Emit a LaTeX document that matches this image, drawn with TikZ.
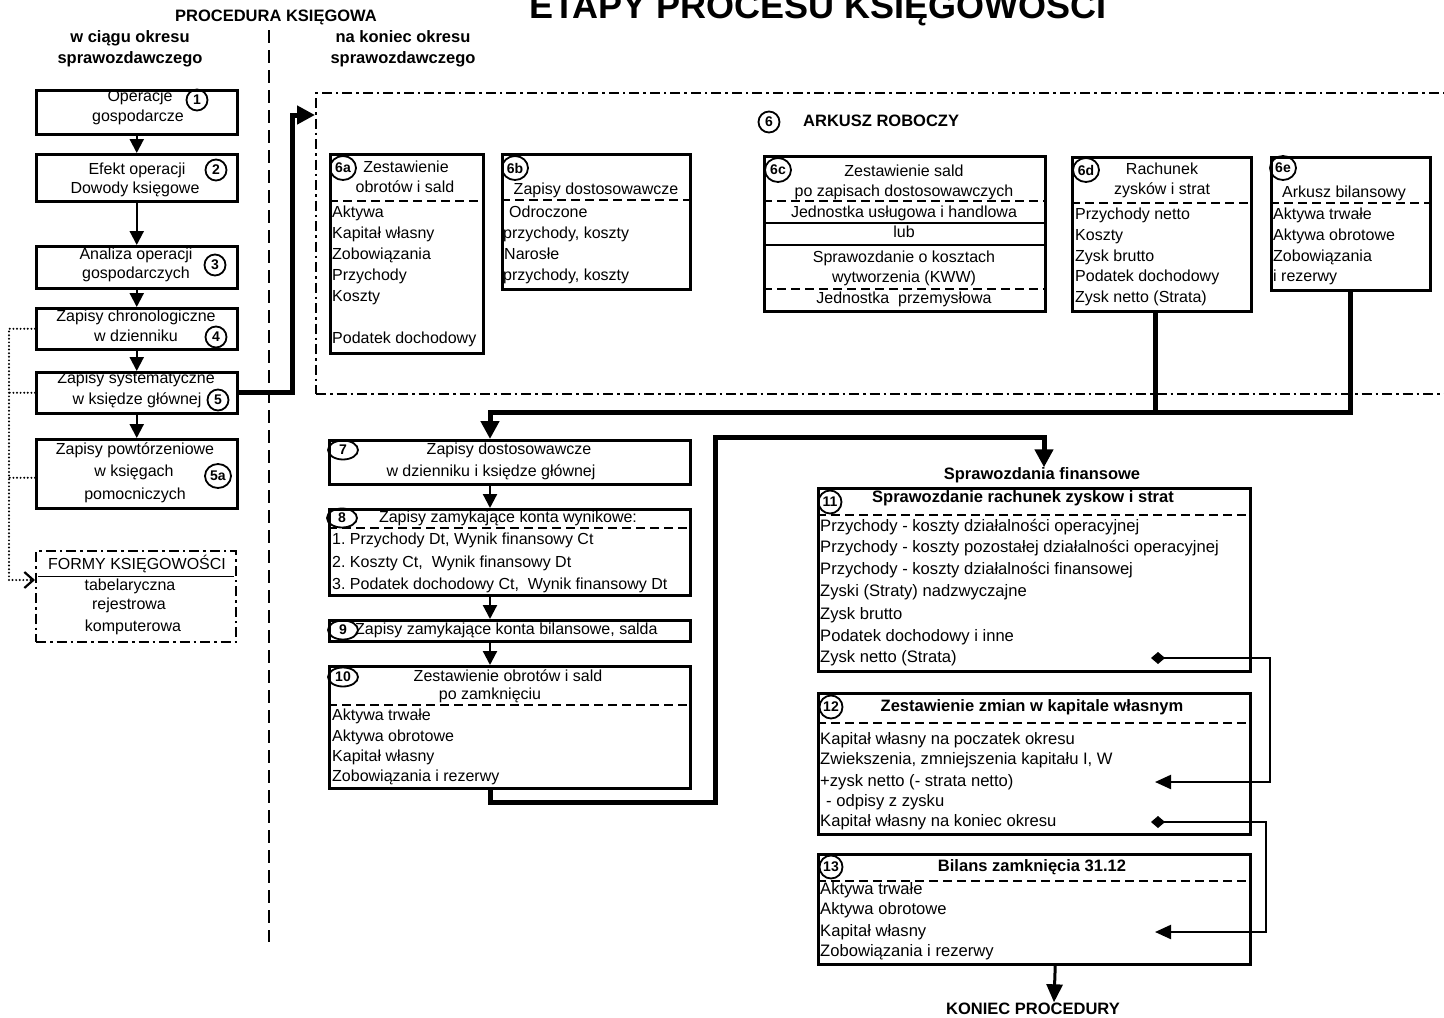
\documentclass[tikz,border=0pt]{standalone}
\usepackage{fontspec}
\setmainfont{Liberation Sans}
\usetikzlibrary{arrows.meta,shapes.geometric,calc}
\frenchspacing

\tikzset{
  frame/.style={draw, line width=2.5pt, inner sep=0pt, anchor=north west},
  dashdotframe/.style={draw, line width=2.4pt, inner sep=0pt, anchor=north west,
    dash pattern=on 10pt off 4pt on 2.5pt off 4pt},
  divider/.style={line width=2pt, dash pattern=on 9pt off 5pt},
  rule/.style={line width=2pt},
  txt/.style={inner sep=0pt, font=\fontsize{16}{19}\selectfont, text height=11.5pt, text depth=3.5pt},
  item/.style={txt, anchor=west},
  wideitem/.style={item, font=\fontsize{16.6}{19}\selectfont},
  hd/.style={txt, font=\fontsize{16.5}{19}\selectfont\bfseries},
  num/.style={circle, draw, line width=1.8pt, inner sep=0pt, minimum size=21pt,
    font=\fontsize{14}{14}\selectfont\bfseries},
  numbig/.style={num, minimum size=23pt},
  numwide/.style={ellipse, draw, line width=1.8pt, inner sep=0pt, minimum width=26pt,
    minimum height=24pt, font=\fontsize{14}{14}\selectfont\bfseries},
  numoval/.style={ellipse, draw, line width=1.8pt, inner sep=0pt, minimum width=30pt,
    minimum height=19pt, font=\fontsize{14}{14}\selectfont\bfseries},
  flow/.style={line width=2.2pt, -{Triangle[length=14pt,width=14pt]}},
  heavy/.style={line width=5pt, line join=miter},
  heavyarr/.style={line width=5pt, line join=miter, -{Triangle[length=18pt,width=18pt]}},
  link/.style={line width=2.2pt, line join=miter,
    {Diamond[length=14pt,width=12pt]}-{Triangle[length=16pt,width=14pt]}},
  dots/.style={line width=2.2pt, line cap=round, dash pattern=on 0pt off 3.6pt},
}

% horizontal separator across a box, #3 below its top edge
\newcommand\innerline[3][divider]{%
  \draw[#1] ($(#2.north west)+(0,#3)$) -- ($(#2.north east)+(0,#3)$);}

\begin{document}
\begin{tikzpicture}[x=1pt,y=-1pt]
\useasboundingbox (0,0) rectangle (1444,1018);

% ---------- headings ----------
\node[inner sep=0pt, anchor=base, font=\fontsize{36}{40}\selectfont\bfseries] (title)
  at (818,18) {ETAPY PROCESU KSIĘGOWOŚCI};
\node[hd] (proc) at (276,17) {PROCEDURA KSIĘGOWA};
\node[hd] (dur1) at (130,38) {w ciągu okresu};
\node[hd] (dur2) at (130,59) {sprawozdawczego};
\node[hd] (fin1) at (403,38) {na koniec okresu};
\node[hd] (fin2) at (403,59) {sprawozdawczego};

% dividing line between the two phases
\coordinate (divtop) at (269,30);
\coordinate (divbot) at (269,942);
\draw[line width=2.2pt, dash pattern=on 13pt off 7pt] (divtop) -- (divbot);

% ---------- left column: during the period ----------
\node[frame, minimum width=201pt, minimum height=44pt] (b1) at (35,89) {};
\node[frame, minimum width=201pt, minimum height=47pt] (b2) at (35,153) {};
\node[frame, minimum width=201pt, minimum height=42pt] (b3) at (35,245) {};
\node[frame, minimum width=201pt, minimum height=41pt] (b4) at (35,307) {};
\node[frame, minimum width=201pt, minimum height=41pt] (b5) at (35,371) {};
\node[frame, minimum width=201pt, minimum height=69pt] (b5a) at (35,438) {};
\node[dashdotframe, minimum width=200pt, minimum height=91pt] (formy) at (35,550) {};
\draw[line width=1pt] ($(formy.north west)+(3,26)$) -- ($(formy.north east)+(-3,26)$);

\node[txt] (t1a) at (140,97) {Operacje};
\node[txt] (t1b) at (138,117) {gospodarcze};
\node[num] (n1) at (197,100) {1};

\node[txt] (t2a) at (137,170) {Efekt operacji};
\node[txt] (t2b) at (135,189) {Dowody księgowe};
\node[num] (n2) at (216,170) {2};

\node[txt] (t3a) at (136,255) {Analiza operacji};
\node[txt] (t3b) at (136,274) {gospodarczych};
\node[num] (n3) at (215,265) {3};

\node[txt] (t4a) at (136,317) {Zapisy chronologiczne};
\node[txt] (t4b) at (136,337) {w dzienniku};
\node[num] (n4) at (216,337) {4};

\node[txt] (t5a) at (136,379) {Zapisy systematyczne};
\node[txt] (t5b) at (137,400) {w księdze głównej};
\node[num] (n5) at (218,400) {5};

\node[txt] (t5aa) at (135,450) {Zapisy powtórzeniowe};
\node[txt] (t5ab) at (134,472) {w księgach};
\node[txt] (t5ac) at (135,495) {pomocniczych};
\node[numwide] (n5a) at (218,476) {5a};

\node[txt] (tfa) at (137,565) {FORMY KSIĘGOWOŚCI};
\node[txt] (tfb) at (130,586) {tabelaryczna};
\node[txt] (tfc) at (129,605) {rejestrowa};
\node[txt] (tfd) at (133,627) {komputerowa};

\draw[flow] (b1.south) -- (b2.north);
\draw[flow] (b2.south) -- (b3.north);
\draw[flow] (b3.south) -- (b4.north);
\draw[flow] (b4.south) -- (b5.north);
\draw[flow] (b5.south) -- (b5a.north);

% dotted links to the forms of bookkeeping
\coordinate (lft) at (9,0);
\coordinate (fa) at ($(formy.north west)+(0,30)$);
\draw[dots, -{Straight Barb[length=9pt,width=16pt]}] (b4.west) -- (b4.west -| lft) |- (fa);
\draw[dots] (b5.west) -- (b5.west -| lft);
\draw[dots] ($(b5a.west)+(0,4)$) -- ($(b5a.west -| lft)+(0,4)$);

% ---------- worksheet ----------
\node[dashdotframe, minimum width=1200pt, minimum height=301pt] (ws) at (315,92) {};
\draw[heavyarr] (b5.east) -- ++(54,0) |- ($(ws.north west)+(0,23)$);

\node[num] (n6) at (769,122) {6};
\node[hd, anchor=west] (wst) at (803,122) {ARKUSZ ROBOCZY};

% 6a
\node[frame, minimum width=153pt, minimum height=199pt] (b6a) at (329,153) {};
\innerline{b6a}{48}
\node[numwide] (n6a) at (343,168) {6a};
\node[txt] (t6a1) at (406,168) {Zestawienie};
\node[txt] (t6a2) at (405,188) {obrotów i sald};
\node[item] (a6a1) at (332,213) {Aktywa};
\node[item] (a6a2) at (332,234) {Kapitał własny};
\node[item] (a6a3) at (332,255) {Zobowiązania};
\node[item] (a6a4) at (332,276) {Przychody};
\node[item] (a6a5) at (332,297) {Koszty};
\node[item] (a6a6) at (332,339) {Podatek dochodowy};

% 6b
\node[frame, minimum width=188pt, minimum height=135pt] (b6b) at (501,153) {};
\innerline{b6b}{47}
\node[numwide] (n6b) at (515,168) {6b};
\node[txt] (t6b1) at (596,190) {Zapisy dostosowawcze};
\node[item] (a6b1) at (509,213) {Odroczone};
\node[item] (a6b2) at (503,234) {przychody, koszty};
\node[item] (a6b3) at (504,255) {Narosłe};
\node[item] (a6b4) at (503,276) {przychody, koszty};

% 6c
\node[frame, minimum width=281pt, minimum height=155pt] (b6c) at (763,155) {};
\innerline{b6c}{46}
\innerline[rule]{b6c}{68}
\innerline[rule]{b6c}{90}
\innerline{b6c}{134}
\node[numwide] (n6c) at (778,170) {6c};
\node[txt] (t6c1) at (904,172) {Zestawienie sald};
\node[txt] (t6c2) at (904,192) {po zapisach dostosowawczych};
\node[txt] (t6c3) at (904,213) {Jednostka usługowa i handlowa};
\node[txt] (t6c4) at (904,233) {lub};
\node[txt] (t6c5) at (904,258) {Sprawozdanie o kosztach};
\node[txt] (t6c6) at (904,278) {wytworzenia (KWW)};
\node[txt] (t6c7) at (904,299) {Jednostka\ \ przemysłowa};

% 6d
\node[frame, minimum width=179pt, minimum height=154pt] (b6d) at (1071,156) {};
\innerline{b6d}{47}
\node[numwide] (n6d) at (1086,170) {6d};
\node[txt] (t6d1) at (1162,170) {Rachunek};
\node[txt] (t6d2) at (1162,190) {zysków i strat};
\node[item] (a6d1) at (1075,215) {Przychody netto};
\node[item] (a6d2) at (1075,236) {Koszty};
\node[item] (a6d3) at (1075,257) {Zysk brutto};
\node[item] (a6d4) at (1075,277) {Podatek dochodowy};
\node[item] (a6d5) at (1075,298) {Zysk netto (Strata)};

% 6e
\node[frame, minimum width=159pt, minimum height=133pt] (b6e) at (1270,156) {};
\innerline{b6e}{47}
\node[numwide] (n6e) at (1283,168) {6e};
\node[txt] (t6e1) at (1344,193) {Arkusz bilansowy};
\node[item] (a6e1) at (1273,215) {Aktywa trwałe};
\node[item] (a6e2) at (1273,236) {Aktywa obrotowe};
\node[item] (a6e3) at (1273,257) {Zobowiązania};
\node[item] (a6e4) at (1273,277) {i rezerwy};

% ---------- closing entries ----------
\node[frame, minimum width=361pt, minimum height=44pt] (b7) at (328,439) {};
\node[numoval] (n7) at (343,450) {7};
\node[txt] (t7a) at (509,450) {Zapisy dostosowawcze};
\node[txt] (t7b) at (491,472) {w dzienniku i księdze głównej};

\node[frame, minimum width=361pt, minimum height=86pt] (b8) at (328,508) {};
\innerline{b8}{20}
\node[numoval] (n8) at (342,518) {8};
\node[txt] (t8) at (508,518) {Zapisy zamykające konta wynikowe:};
\node[item] (a81) at (332,540) {1. Przychody Dt, Wynik finansowy Ct};
\node[item] (a82) at (332,563) {2. Koszty Ct,\ \ Wynik finansowy Dt};
\node[item] (a83) at (332,585) {3. Podatek dochodowy Ct,\ \ Wynik finansowy Dt};

\node[frame, minimum width=361pt, minimum height=21pt] (b9) at (328,619) {};
\node[numoval] (n9) at (343,630) {9};
\node[item] (t9) at (355,630) {Zapisy zamykające konta bilansowe, salda};

\node[frame, minimum width=361pt, minimum height=122pt] (b10) at (328,665) {};
\innerline{b10}{40}
\node[numoval] (n10) at (343,677) {10};
\node[txt] (t10a) at (508,677) {Zestawienie obrotów i sald};
\node[txt] (t10b) at (490,695) {po zamknięciu};
\node[item] (a101) at (332,716) {Aktywa trwałe};
\node[item] (a102) at (332,737) {Aktywa obrotowe};
\node[item] (a103) at (332,757) {Kapitał własny};
\node[item] (a104) at (332,777) {Zobowiązania i rezerwy};

% worksheet results down to the closing entries
\coordinate (m7) at (490,412);
\draw[heavy] ($(b6d.south)+(-6,0)$) -- ($(b6d.south)+(-6,102)$);
\draw[heavyarr] (b6e.south) |- (m7) -- (b7.north -| m7);
\draw[flow] (b7.south -| m7) -- (b8.north -| m7);
\draw[flow] (b8.south -| m7) -- (b9.north -| m7);
\draw[flow] (b9.south -| m7) -- (b10.north -| m7);

% ---------- financial statements ----------
\node[hd] (sf) at (1042,475) {Sprawozdania finansowe};
\coordinate (r1) at (715,802);
\coordinate (r2) at (1044,437);
\draw[heavyarr] (b10.south -| m7) |- (r1) |- (r2) -- (sf.north -| r2);

\node[frame, minimum width=432pt, minimum height=183pt] (b11) at (817,487) {};
\innerline{b11}{28}
\node[numbig] (n11) at (830,502) {11};
\node[hd] (t11) at (1023,498) {Sprawozdanie rachunek zyskow i strat};
\node[wideitem] (a111) at (820,527) {Przychody - koszty działalności operacyjnej};
\node[wideitem] (a112) at (820,548) {Przychody - koszty pozostałej działalności operacyjnej};
\node[wideitem] (a113) at (820,570) {Przychody - koszty działalności finansowej};
\node[wideitem] (a114) at (820,592) {Zyski (Straty) nadzwyczajne};
\node[wideitem] (a115) at (820,615) {Zysk brutto};
\node[wideitem] (a116) at (820,637) {Podatek dochodowy i inne};
\node[wideitem] (a117) at (820,658) {Zysk netto (Strata)};

\node[frame, minimum width=432pt, minimum height=141pt] (b12) at (817,692) {};
\innerline{b12}{31}
\node[numbig] (n12) at (831,707) {12};
\node[hd] (t12) at (1032,707) {Zestawienie zmian w kapitale własnym};
\node[wideitem] (a121) at (820,740) {Kapitał własny na poczatek okresu};
\node[wideitem] (a122) at (820,760) {Zwiekszenia, zmniejszenia kapitału I, W};
\node[wideitem] (a123) at (820,782) {+zysk netto (- strata netto)};
\node[wideitem] (a124) at (826,802) {- odpisy z zysku};
\node[wideitem] (a125) at (820,822) {Kapitał własny na koniec okresu};

\node[frame, minimum width=432pt, minimum height=110pt] (b13) at (817,853) {};
\innerline{b13}{28}
\node[numbig] (n13) at (831,867) {13};
\node[hd] (t13) at (1032,867) {Bilans zamknięcia 31.12};
\node[wideitem] (a131) at (820,890) {Aktywa trwałe};
\node[wideitem] (a132) at (820,910) {Aktywa obrotowe};
\node[wideitem] (a133) at (820,932) {Kapitał własny};
\node[wideitem] (a134) at (820,952) {Zobowiązania i rezerwy};

% carried-over figures
\coordinate (z1) at (1151,658);
\coordinate (turn1) at (1270,782);
\coordinate (end1) at (1155,782);
\draw[link] (z1) -| (turn1) -- (end1);
\coordinate (z2) at (1151,822);
\coordinate (turn2) at (1266,932);
\coordinate (end2) at (1155,932);
\draw[link] (z2) -| (turn2) -- (end2);

\node[hd] (kp) at (1033,1010) {KONIEC PROCEDURY};
\draw[line width=3pt, -{Triangle[length=18pt,width=16pt]}]
  ($(b13.south)+(21,0)$) -- ($(kp.north)+(21,0)$);

\end{tikzpicture}
\end{document}
